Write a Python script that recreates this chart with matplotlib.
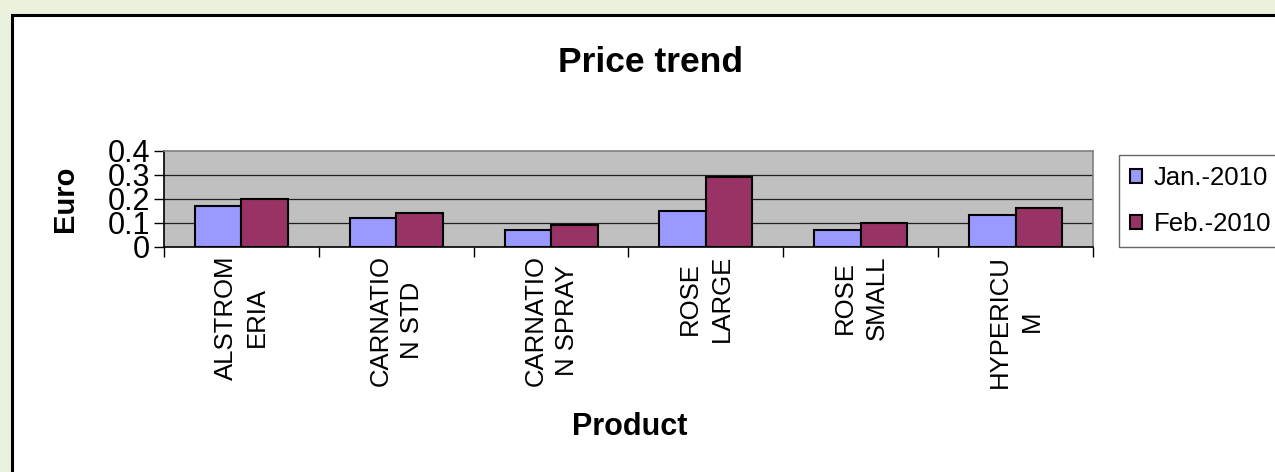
import matplotlib
matplotlib.use("Agg")
import matplotlib.pyplot as plt
from matplotlib.patches import Rectangle
import numpy as np

plt.rcParams["font.family"] = ["Liberation Sans", "DejaVu Sans"]

products = ["ALSTROM\nERIA", "CARNATIO\nN STD", "CARNATIO\nN SPRAY",
            "ROSE\nLARGE", "ROSE\nSMALL", "HYPERICU\nM"]
jan_2010 = [0.17, 0.12, 0.07, 0.15, 0.07, 0.13]
feb_2010 = [0.20, 0.14, 0.09, 0.29, 0.10, 0.16]
series_names = ["Jan.-2010", "Feb.-2010"]
yticks = [0, 0.1, 0.2, 0.3, 0.4]
ytick_labels = ["0", "0.1", "0.2", "0.3", "0.4"]

W, H = 1275, 472
fig = plt.figure(figsize=(W / 100, H / 100), dpi=100, facecolor="#eaf1dc")

# white chart box with thick black border (runs off the right/bottom edges)
fig.patches.append(Rectangle((11.5 / W, -0.2), 1.2, 1.2 - 14.5 / H,
                             transform=fig.transFigure, facecolor="white",
                             edgecolor="black", linewidth=2.2, zorder=-10))

ax = fig.add_axes([164 / W, 1 - 246.7 / H, (1093 - 164) / W, (246.7 - 150.5) / H])
ax.set_zorder(2)
ax.set_facecolor("#c0c0c0")

x = np.arange(len(products))
bw = 0.3
b1 = ax.bar(x - bw / 2, jan_2010, bw, color="#9999ff", edgecolor="black",
            linewidth=1.5, zorder=3, label=series_names[0])
b2 = ax.bar(x + bw / 2, feb_2010, bw, color="#993366", edgecolor="black",
            linewidth=1.5, zorder=3, label=series_names[1])

ax.set_xlim(-0.5, len(products) - 0.5)
ax.set_ylim(0, 0.4)
ax.set_yticks(yticks)
ax.set_yticklabels(ytick_labels, fontsize=22)
for y in yticks[1:-1]:
    ax.axhline(y, color="#202020", linewidth=0.9, zorder=1)

# boundary ticks (major, unlabeled) and centered labels (minor, no tick)
ax.set_xticks(np.arange(len(products) + 1) - 0.5)
ax.set_xticklabels([])
ax.set_xticks(x, minor=True)
ax.set_xticklabels(products, minor=True, rotation=90, fontsize=18.5,
                   va="top", ha="center", multialignment="center", linespacing=1.4)
ax.tick_params(axis="x", which="major", direction="out", length=7, width=1, color="black")
ax.tick_params(axis="x", which="minor", length=0, pad=6)
ax.tick_params(axis="y", direction="out", length=7, width=1, pad=3)

for s in ("top", "right"):
    ax.spines[s].set_color("#808080")
    ax.spines[s].set_linewidth(1.2)
for s in ("left", "bottom"):
    ax.spines[s].set_color("black")
    ax.spines[s].set_linewidth(1.2)

fig.text(650 / W, 1 - 62 / H, "Price trend", fontsize=25.5, fontweight="bold",
         ha="center", va="center")
fig.text(65 / W, 1 - 198.5 / H, "Euro", fontsize=21, fontweight="bold",
         rotation=90, ha="center", va="center")
fig.text(629.5 / W, 1 - 427 / H, "Product", fontsize=22, fontweight="bold",
         ha="center", va="center")

leg = fig.legend(handles=[b1, b2], labels=series_names, loc="upper left",
                 bbox_to_anchor=(1119 / W, 1 - 155 / H), borderaxespad=0,
                 fontsize=18.5, frameon=True, fancybox=False, edgecolor="#404040",
                 handlelength=0.47, handleheight=0.47, handletextpad=0.47,
                 labelspacing=0.87, borderpad=0.42)
leg.get_frame().set_linewidth(1.0)
for p in leg.get_patches():
    p.set_linewidth(1.5)

fig.savefig("out.png", dpi=100, facecolor=fig.get_facecolor())
